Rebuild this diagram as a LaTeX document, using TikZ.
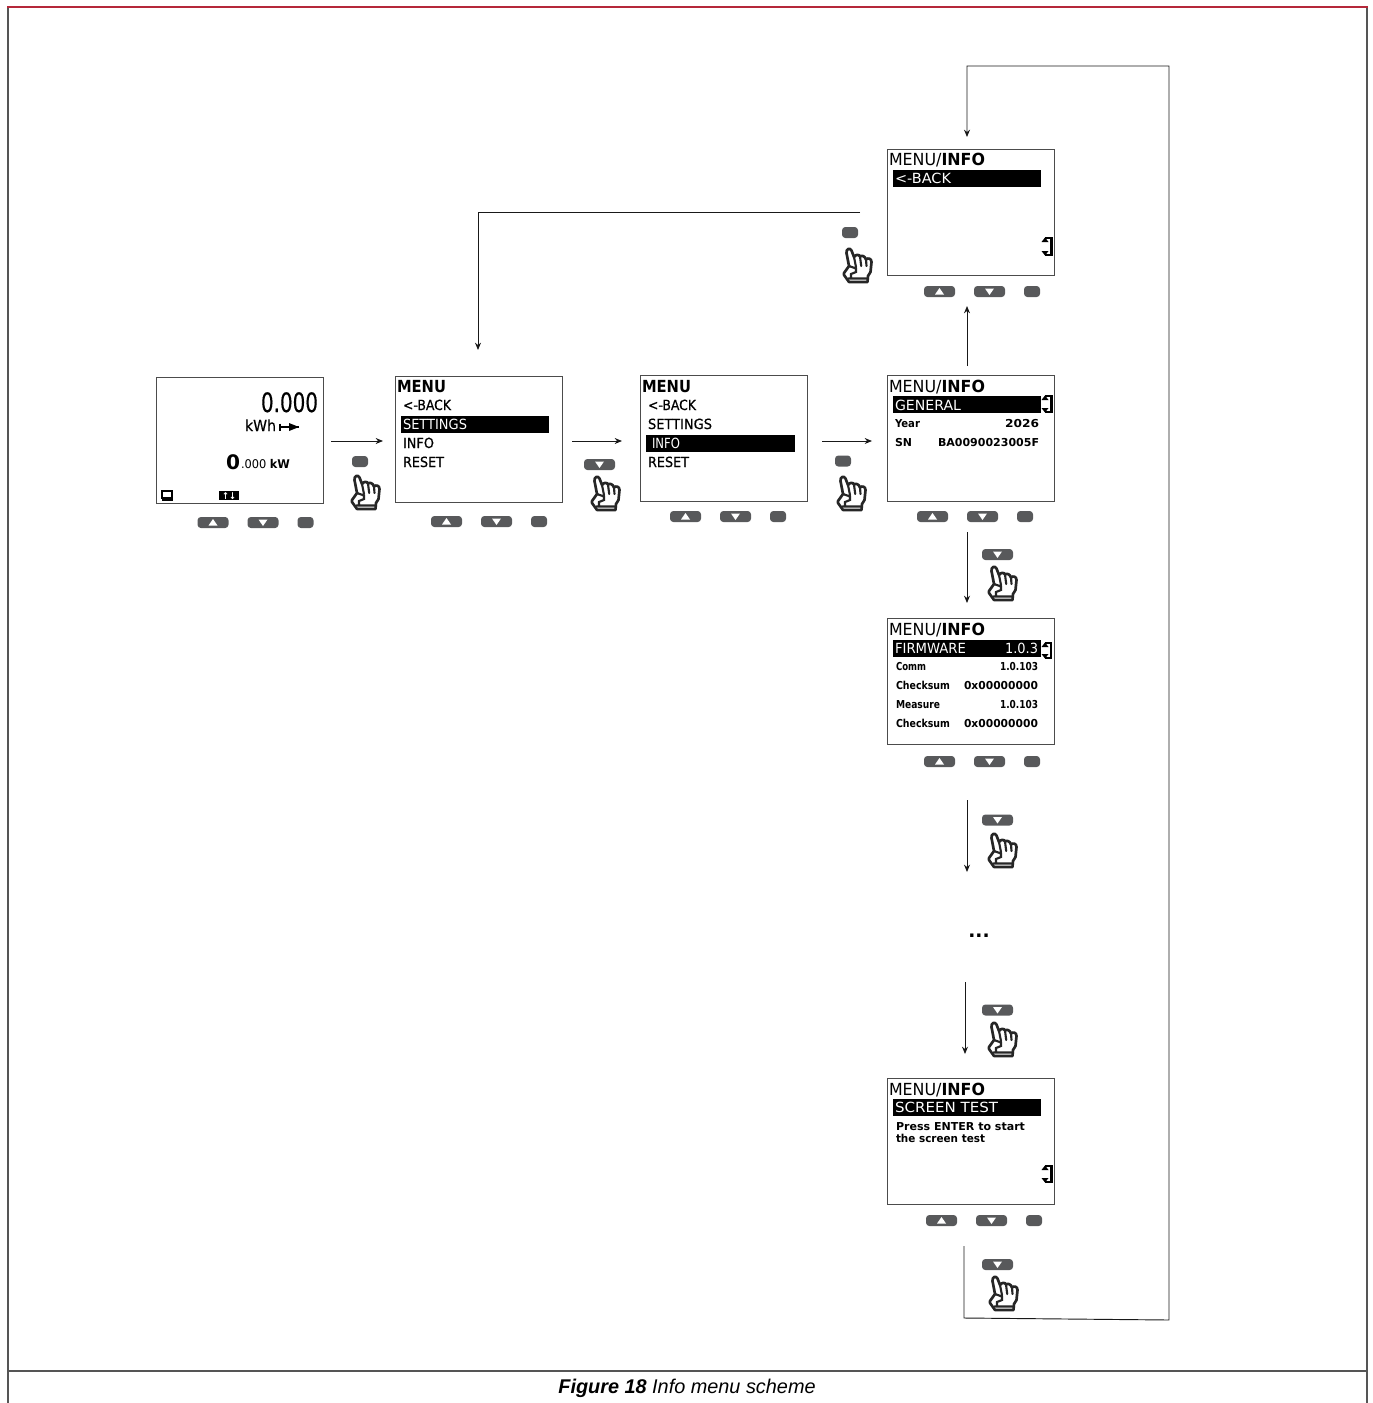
\documentclass[tikz,border=0pt]{standalone}
\usepackage{fontspec}
\usepackage{graphicx}
\setmainfont{DejaVu Sans}
\newfontfamily\capfont{Liberation Sans}
\newfontfamily\lcdb[FakeBold=0.6]{DejaVu Sans}
\usetikzlibrary{arrows.meta}
\definecolor{btn}{HTML}{58595B}
\definecolor{framered}{HTML}{B5283A}
\definecolor{framegray}{HTML}{555555}
\newcommand{\fT}{\fontsize{12.5}{13}\selectfont}
\newcommand{\fB}{\fontsize{10.5}{12}\selectfont\lcdb}
\newcommand{\fS}{\fontsize{8.2}{9}\selectfont\bfseries}
\newcommand{\fW}{\fontsize{10.5}{12}\selectfont\color{white}}
\tikzset{
  screen/.style={draw=black!70,line width=1.1pt,fill=white,minimum width=125.25pt,minimum height=94.5pt,inner sep=0pt,anchor=north west},
  conn/.style={draw=black!90,line width=0.7pt,-{Stealth[length=5.5pt,width=4.5pt]}},
  pillbtn/.style={fill=btn,rounded corners=2.5pt,draw=none},
  lcdtext/.style={anchor=base west,inner sep=0pt,outer sep=0pt},
  hl/.style={fill=black,draw=none},
  handicon/.pic={
    \draw[line width=2pt,line join=round,fill=white,draw=black!85]
      (6,35) -- (1,28) -- (1,26) -- (6,19) -- (3.5,6) .. controls (3,1.5) and (7,0.5) .. (8.5,3.5)
      -- (11,10) .. controls (12.5,7.5) and (16,7) .. (17,9.5) .. controls (18.5,8) and (22,9) .. (23,12.5)
      .. controls (25,10.5) and (28.5,11.5) .. (28.5,15) -- (27.5,25) -- (25,29) -- (24.5,35) -- cycle;
    \draw[line width=1.6pt,draw=black!85,line cap=round]
      (11,10) -- (13,20) (17,9.5) -- (18.2,19) (23,12.5) -- (23.5,19)
      (6,19) -- (13,21.5) -- (13,25) -- (8,27) -- (8,30)
      (5.5,31.5) -- (25,31.5);
  },
}
\newcommand{\upbtn}[3]{\fill[pillbtn] (#1,#2) coordinate (#3) rectangle ++(31,11);
  \fill[white] (#1+15.5-4.5,#2+8.5) -- ++(9,0) -- ++(-4.5,-6.5) -- cycle;}
\newcommand{\dnbtn}[3]{\fill[pillbtn] (#1,#2) coordinate (#3) rectangle ++(31,11);
  \fill[white] (#1+15.5-4.5,#2+2.5) -- ++(9,0) -- ++(-4.5,6.5) -- cycle;}
\newcommand{\entbtn}[3]{\fill[pillbtn] (#1,#2) coordinate (#3) rectangle ++(16,11);}
\newcommand{\btnrow}[3]{\upbtn{#1}{#2}{#3u}\dnbtn{#1+50}{#2}{#3d}\entbtn{#1+100}{#2}{#3e}}
\newcommand{\lcd}[5]{\node[lcdtext] (#1) at (#2,#3) {\resizebox{#4\dimexpr 0.75pt\relax}{\height}{#5}};}
\newcommand{\scrollmark}[3]{
  \fill[black] (1049.5,#1) rectangle (#3,#1+#2);
  \fill[black] (1041.5,#1+5) -- (1048.5,#1+5) -- (1045,#1+0.5) -- cycle;
  \fill[black] (1041.5,#1+#2-5) -- (1048.5,#1+#2-5) -- (1045,#1+#2-0.5) -- cycle;
  \draw[black,line width=0.8pt] (1045,#1+1) -- (1049.5,#1+1) (1045,#1+#2-1) -- (1049.5,#1+#2-1);}
\begin{document}
\begin{tikzpicture}[x=0.75pt,y=-0.75pt]
\useasboundingbox (0,0) rectangle (1373,1403);
\draw[framegray,line width=0.8pt] (8,6) -- (8,1403) (1367,6) -- (1367,1403);
\draw[framered,line width=1.5pt] (7,6.5) -- (1367.5,6.5);
\draw[framegray,line width=1.2pt] (8,1371) -- (1367,1371);
\node[inner sep=0pt] (caption) at (687,1388) {\capfont\fontsize{14.9}{16}\selectfont\textbf{\textit{Figure 18}} \textit{Info menu scheme}};

\node[screen] (s1) at (156,377) {};
\node[screen] (s2) at (395,376) {};
\node[screen] (s3) at (640,375) {};
\node[screen] (s4) at (887,375) {};
\node[screen] (s5) at (887,149) {};
\node[screen] (s6) at (887,618) {};
\node[screen] (s7) at (887,1078) {};

\lcd{a1}{261}{412}{57}{\fontsize{20}{22}\selectfont\lcdb 0.000}
\lcd{a2}{245}{431}{31}{\fontsize{11.5}{12}\selectfont\lcdb kWh}
\coordinate (g1) at (280,427); \coordinate (g2) at (299,427);
\draw[black,line width=1pt] (g1) -- (g2) (280,423.5) -- (280,430.5);
\fill[black] (289,423) -- (299,427) -- (289,431) -- cycle;
\lcd{a3}{226}{469}{14}{\fontsize{15}{16}\selectfont\bfseries 0}
\lcd{a4}{241}{468}{49}{\fontsize{9}{10}\selectfont .000 \textbf{kW}}
\draw[black,line width=1.3pt] (162,491) rectangle (172,498);
\fill[black] (161.5,498) rectangle (172.5,500.5);
\fill[black] (219,491) rectangle (239,500);
\lcd{a5}{222}{499}{14}{\fontsize{7}{8}\selectfont\bfseries\color{white}↑↓}

\lcd{b1}{397}{392}{49}{\fT\bfseries MENU}
\lcd{b2}{403}{410}{48}{\fB <-BACK}
\fill[hl] (401,416) rectangle (549,433);
\lcd{b3}{403}{429}{64}{\fW SETTINGS}
\lcd{b4}{403}{448}{31}{\fB INFO}
\lcd{b5}{403}{467}{41}{\fB RESET}

\lcd{c1}{642}{392}{49}{\fT\bfseries MENU}
\lcd{c2}{648}{410}{48}{\fB <-BACK}
\lcd{c3}{648}{429}{64}{\fB SETTINGS}
\fill[hl] (646,435) rectangle (795,452);
\lcd{c4}{652}{448}{28}{\fW INFO}
\lcd{c5}{648}{467}{41}{\fB RESET}

\lcd{d1}{889}{392}{96}{\fT MENU/\textbf{INFO}}
\fill[hl] (893,396) rectangle (1041,413);
\lcd{d2}{895}{410}{66}{\fW GENERAL}
\lcd{d3}{895}{427}{25}{\fS Year}
\lcd{d4}{1005}{427}{34}{\fS 2026}
\lcd{d5}{895}{446}{17}{\fS SN}
\lcd{d6}{938}{446}{101}{\fS BA0090023005F}
\scrollmark{395}{18}{1053}

\lcd{e1}{889}{165}{96}{\fT MENU/\textbf{INFO}}
\fill[hl] (893,170) rectangle (1041,187);
\lcd{e2}{895}{183}{56}{\fW <-BACK}
\scrollmark{237}{19}{1053}

\lcd{f1}{889}{635}{96}{\fT MENU/\textbf{INFO}}
\fill[hl] (893,640) rectangle (1041,657);
\lcd{f2}{895}{653}{71}{\fW FIRMWARE}
\lcd{f3}{1005}{653}{33}{\fW 1.0.3}
\lcd{f4}{896}{670}{30}{\fS Comm}
\lcd{f5}{1000}{670}{38}{\fS 1.0.103}
\lcd{f6}{896}{689}{54}{\fS Checksum}
\lcd{f7}{964}{689}{74}{\fS 0x00000000}
\lcd{f8}{896}{708}{44}{\fS Measure}
\lcd{f9}{1000}{708}{38}{\fS 1.0.103}
\lcd{f10}{896}{727}{54}{\fS Checksum}
\lcd{f11}{964}{727}{74}{\fS 0x00000000}
\scrollmark{642}{17}{1051.5}

\lcd{g3}{889}{1095}{96}{\fT MENU/\textbf{INFO}}
\fill[hl] (893,1099) rectangle (1041,1116);
\lcd{g4}{895}{1112}{103}{\fW SCREEN TEST}
\lcd{g5}{896}{1130}{129}{\fS Press ENTER to start}
\lcd{g6}{896}{1142}{89}{\fS the screen test}
\scrollmark{1165}{18}{1053}

\btnrow{197.5}{517}{r1}
\btnrow{431}{516}{r2}
\btnrow{670}{511}{r3}
\btnrow{917}{511}{r4}
\btnrow{924}{286}{r5}
\btnrow{924}{756}{r6}
\btnrow{926}{1215}{r7}

\entbtn{352}{456}{p1}  \pic at (351,474) {handicon};
\dnbtn{584}{459}{p2}   \pic at (591,475) {handicon};
\entbtn{835}{455.5}{p3}  \pic at (837,475) {handicon};
\entbtn{842}{227}{p4}  \pic at (843,247) {handicon};
\dnbtn{982}{549}{p5}   \pic at (988,565) {handicon};
\dnbtn{982}{814.5}{p6}   \pic at (988,832) {handicon};
\dnbtn{982}{1004.5}{p7}  \pic at (988,1021) {handicon};
\dnbtn{982}{1259}{p8}  \pic at (989,1275) {handicon};

\node[inner sep=0pt] (dots) at (979,936) {\fontsize{14}{14}\selectfont\bfseries ...};

\coordinate (h1a) at (331,441); \coordinate (h1b) at (383,441);
\coordinate (h2a) at (572,441); \coordinate (h2b) at (622,441);
\coordinate (h3a) at (822,441); \coordinate (h3b) at (872,441);
\coordinate (v1a) at (967,366); \coordinate (v1b) at (967,306);
\coordinate (v2a) at (967,532); \coordinate (v2b) at (967,603);
\coordinate (v3a) at (967,800); \coordinate (v3b) at (967,872);
\coordinate (v4a) at (965,982); \coordinate (v4b) at (965,1054);
\coordinate (l1) at (964,1246); \coordinate (l2) at (964,1318);
\coordinate (l3) at (1169,1320); \coordinate (l4) at (1169,66);
\coordinate (l5) at (967,66); \coordinate (l6) at (967,137);
\coordinate (t1) at (860,212); \coordinate (t2) at (478,212); \coordinate (t3) at (478,350);

\draw[conn] (h1a) -- (h1b);
\draw[conn] (h2a) -- (h2b);
\draw[conn] (h3a) -- (h3b);
\draw[conn] (v1a) -- (v1b);
\draw[conn] (v2a) -- (v2b);
\draw[conn] (v3a) -- (v3b);
\draw[conn] (v4a) -- (v4b);
\draw[conn] (l1) -- (l2) -- (l3) -- (l4) -- (l5) -- (l6);
\draw[conn] (t1) -- (t2) -- (t3);
\end{tikzpicture}
\end{document}
